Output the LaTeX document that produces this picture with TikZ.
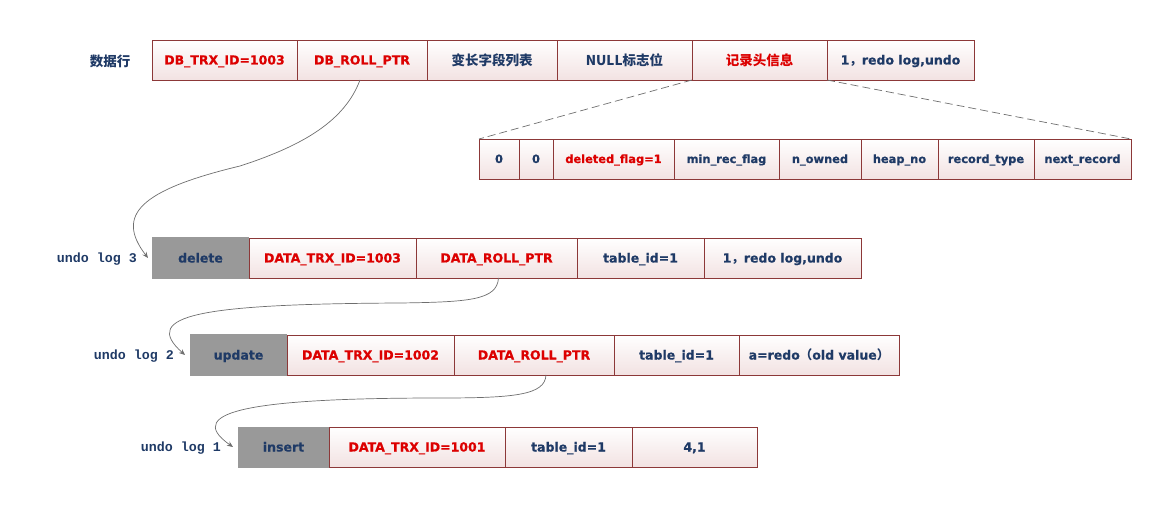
\documentclass[tikz,border=0pt]{standalone}
\usepackage{fontspec}
\setmainfont{DejaVu Sans}[BoldFeatures={FakeBold=0.6}]
\newfontfamily\cjk{Noto Sans CJK SC}
\newfontfamily\monof{Liberation Mono}
\usetikzlibrary{arrows.meta}
\definecolor{bordc}{RGB}{140,56,56}
\definecolor{cellbot}{RGB}{242,226,226}
\definecolor{navyt}{RGB}{31,58,102}
\definecolor{redt}{RGB}{220,0,0}
\definecolor{graybox}{RGB}{153,153,153}
\definecolor{connc}{RGB}{110,110,110}
\tikzset{
  cell/.style={draw=bordc, line width=0.9pt, top color=white, bottom color=cellbot,
    minimum height=40pt, inner sep=0pt, outer sep=0pt, anchor=north west,
    text height=9pt, text depth=0pt,
    text=navyt, font=\bfseries\fontsize{12.5}{15}\selectfont},
  smallcell/.style={cell, text height=8pt, font=\bfseries\fontsize{11.4}{14}\selectfont},
  redcell/.style={text=redt},
  graycell/.style={cell, fill=graybox, draw=graybox, top color=graybox, bottom color=graybox},
  cjkfont/.style={text height=11pt, font=\cjk\bfseries\fontsize{13.5}{16}\selectfont},
  rowlabel/.style={text=navyt, font=\monof\bfseries\fontsize{13.3}{16}\selectfont, anchor=east, inner sep=0pt},
  conn/.style={draw=connc, line width=0.7pt, -{Stealth[length=6pt,width=5pt]}},
  dashline/.style={draw=connc, line width=0.7pt, dash pattern=on 8pt off 4pt}
}
\begin{document}
\begin{tikzpicture}[x=1pt,y=-1pt]
\useasboundingbox (0,0) rectangle (1171,505);
% data row
\node[text=navyt, font=\cjk\bfseries\fontsize{13.5}{16}\selectfont] (lbl0) at (110,61) {数据行};
\node[cell, redcell, minimum width=145pt] (d1) at (152,40) {DB\_TRX\_ID=1003};
\node[cell, redcell, minimum width=130pt] (d2) at (297,40) {DB\_ROLL\_PTR};
\node[cell, cjkfont, minimum width=130pt] (d3) at (427,40) {变长字段列表};
\node[cell, cjkfont, minimum width=135pt] (d4) at (557,40) {NULL标志位};
\node[cell, cjkfont, redcell, minimum width=135pt] (d5) at (692,40) {记录头信息};
\node[cell, minimum width=147pt] (d6) at (827,40) {1{\cjk ，}redo log,undo};
% record header row
\node[smallcell, minimum width=40pt] (h1) at (479,139) {0};
\node[smallcell, minimum width=34pt] (h2) at (519,139) {0};
\node[smallcell, redcell, minimum width=121pt] (h3) at (553,139) {deleted\_flag=1};
\node[smallcell, minimum width=105pt] (h4) at (674,139) {min\_rec\_flag};
\node[smallcell, minimum width=82pt] (h5) at (779,139) {n\_owned};
\node[smallcell, minimum width=77pt] (h6) at (861,139) {heap\_no};
\node[smallcell, minimum width=96pt] (h7) at (938,139) {record\_type};
\node[smallcell, minimum width=97pt] (h8) at (1034,139) {next\_record};
\draw[dashline] (d5.south west) -- (h1.north west);
\draw[dashline] (d5.south east) -- (h8.north east);
% undo log 3
\node[graycell, minimum width=97pt] (u3a) at (152,238) {delete};
\node[cell, redcell, minimum width=167pt] (u3b) at (249,238) {DATA\_TRX\_ID=1003};
\node[cell, redcell, minimum width=161pt] (u3c) at (416,238) {DATA\_ROLL\_PTR};
\node[cell, minimum width=127pt] (u3d) at (577,238) {table\_id=1};
\node[cell, minimum width=157pt] (u3e) at (704,238) {1{\cjk ，}redo log,undo};
\node[rowlabel] (lbl3) at (137,259) {undo log 3};
% undo log 2
\node[graycell, minimum width=97pt] (u2a) at (190,335) {update};
\node[cell, redcell, minimum width=167pt] (u2b) at (287,335) {DATA\_TRX\_ID=1002};
\node[cell, redcell, minimum width=160pt] (u2c) at (454,335) {DATA\_ROLL\_PTR};
\node[cell, minimum width=125pt] (u2d) at (614,335) {table\_id=1};
\node[cell, minimum width=160pt] (u2e) at (739,335) {a=redo{\cjk （}old value{\cjk ）}};
\node[rowlabel] (lbl2) at (174,356) {undo log 2};
% undo log 1
\node[graycell, minimum width=91pt] (u1a) at (238,427) {insert};
\node[cell, redcell, minimum width=176pt] (u1b) at (329,427) {DATA\_TRX\_ID=1001};
\node[cell, minimum width=127pt] (u1c) at (505,427) {table\_id=1};
\node[cell, minimum width=125pt] (u1d) at (632,427) {4,1};
\node[rowlabel] (lbl1) at (221,448) {undo log 1};
% connectors
\coordinate (s1) at ([xshift=-2pt]d2.south);
\coordinate (e1) at ([xshift=-4pt]u3a.west);
\draw[conn] (s1) .. controls (345,120) and (305,145) .. (240,166) .. controls (140,190) and (115,215) .. (e1);
\coordinate (s2) at ([xshift=2pt]u3c.south);
\coordinate (e2) at ([xshift=-5pt]u2a.west);
\draw[conn] (s2) .. controls (497,300) and (470,302) .. (400,303) .. controls (200,304) and (140,315) .. (e2);
\coordinate (s3) at ([xshift=12pt]u2c.south);
\coordinate (e3) at ([xshift=-5pt]u1a.west);
\draw[conn] (s3) .. controls (545,395) and (515,398) .. (440,398) .. controls (260,398) and (180,410) .. (e3);
\end{tikzpicture}
\end{document}
